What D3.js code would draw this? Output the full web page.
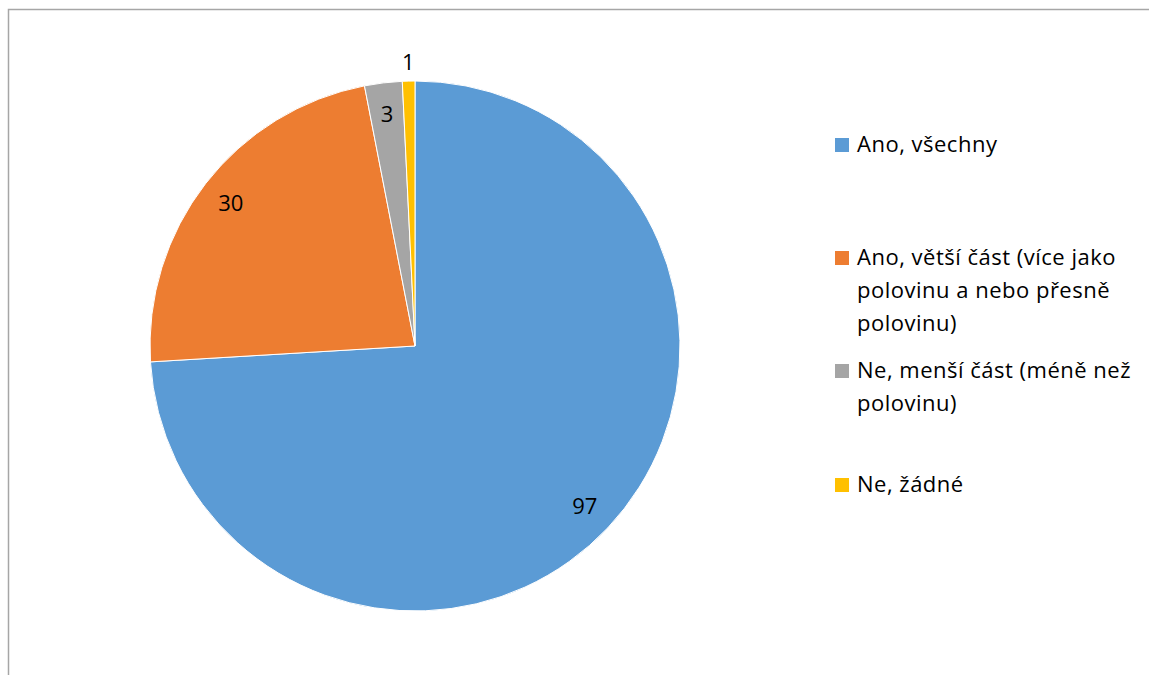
<!DOCTYPE html>
<html>
<head>
<meta charset="utf-8">
<script src="https://cdn.jsdelivr.net/npm/d3@7"></script>
<style>
  body { margin: 0; background: #fff; }
  text { font-family: "Open Sans", sans-serif; fill: #000; }
</style>
</head>
<body>
<div id="chart"></div>
<script>
// pie values
var categories = ["Ano, všechny",
                  "Ano, větší část (více jako polovinu a nebo přesně polovinu)",
                  "Ne, menší část (méně než polovinu)",
                  "Ne, žádné"];
var values = [97, 30, 3, 1];
var colors = ["#5b9bd5", "#ed7d31", "#a5a5a5", "#ffc000"];
// legend lines as wrapped in the original
var legendLines = [["Ano, všechny"],
                   ["Ano, větší část (více jako", "polovinu a nebo přesně", "polovinu)"],
                   ["Ne, menší část (méně než", "polovinu)"],
                   ["Ne, žádné"]];

var width = 1149, height = 675;
var cx = 415, cy = 346, radius = 265;

var svg = d3.select("#chart").append("svg")
    .attr("width", width)
    .attr("height", height);

// chart frame (runs off the right and bottom)
svg.append("rect")
    .attr("x", 8.5).attr("y", 9.5)
    .attr("width", 1200).attr("height", 700)
    .attr("fill", "none")
    .attr("stroke", "#a6a6a6")
    .attr("stroke-width", 1.5);

var data = categories.map(function(c, i) { return { name: c, value: values[i], color: colors[i] }; });

var pie = d3.pie().sort(null).value(function(d) { return d.value; });
var arc = d3.arc().innerRadius(0).outerRadius(radius);

var g = svg.append("g").attr("transform", "translate(" + cx + "," + cy + ")");

var arcs = pie(data);

g.selectAll("path.slice")
    .data(arcs)
  .enter().append("path")
    .attr("class", "slice")
    .attr("d", arc)
    .attr("fill", function(d) { return d.data.color; })
    .attr("stroke", "#fff")
    .attr("stroke-width", 1);

// labels: inside at 0.88r, tiny slices go outside
function labelRadius(d) {
    return (d.endAngle - d.startAngle) < 0.1 ? radius * 1.07 : radius * 0.88;
}

g.selectAll("text.lbl")
    .data(arcs)
  .enter().append("text")
    .attr("class", "lbl")
    .attr("x", function(d) { return Math.sin((d.startAngle + d.endAngle) / 2) * labelRadius(d); })
    .attr("y", function(d) { return -Math.cos((d.startAngle + d.endAngle) / 2) * labelRadius(d); })
    .attr("dy", "0.35em")
    .attr("text-anchor", "middle")
    .style("font-size", "22px")
    .text(function(d) { return d.value; });

// legend
var legendTop = [145, 258, 371, 485];
var legend = svg.selectAll(".legend")
    .data(data)
  .enter().append("g")
    .attr("class", "legend")
    .attr("transform", function(d, i) { return "translate(835," + legendTop[i] + ")"; });

legend.append("rect")
    .attr("x", 0).attr("y", -7)
    .attr("width", 14).attr("height", 14)
    .attr("fill", function(d) { return d.color; });

legend.append("text")
    .attr("x", 22)
    .style("font-size", "22px")
    .style("letter-spacing", "0.5px")
    .each(function(d, i) {
        var t = d3.select(this);
        legendLines[i].forEach(function(line, j) {
            t.append("tspan")
                .attr("x", 22)
                .attr("y", j * 33)
                .attr("dy", "0.3em")
                .text(line);
        });
    });
</script>
</body>
</html>
